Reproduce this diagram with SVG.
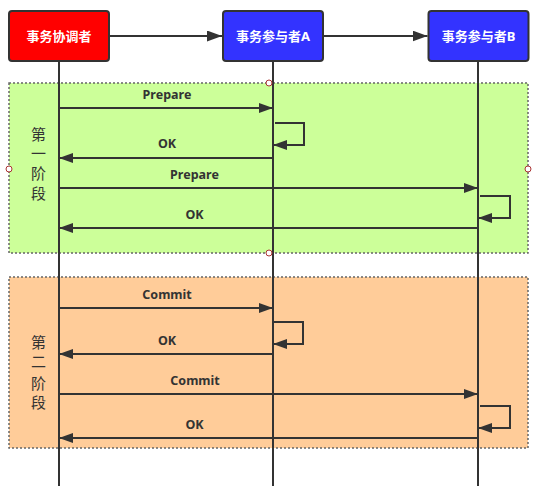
<svg xmlns="http://www.w3.org/2000/svg" width="546" height="486" viewBox="0 0 546 486">
<style>
.box{stroke:#333;stroke-width:2}
.lbl{font-family:"Noto Sans","Noto Sans CJK SC",sans-serif;font-weight:bold;font-size:13px;fill:#fff;text-anchor:middle}
.msg{font-family:"Noto Sans","Noto Sans CJK SC",sans-serif;font-weight:bold;font-size:12.5px;fill:#333;text-anchor:middle}
.phase{font-family:"Noto Sans CJK SC",sans-serif;font-size:15px;fill:#333;text-anchor:middle}
.ln{stroke:#333;stroke-width:2;fill:none}
.arr{stroke:#333;stroke-width:2;fill:none;marker-end:url(#ah)}
.frame{stroke:#666;stroke-width:1.5;stroke-dasharray:2 2}
.handle{fill:#fff;stroke:#a33;stroke-width:1}
</style>
<defs>
<marker id="ah" markerUnits="userSpaceOnUse" markerWidth="15" markerHeight="11" refX="14" refY="5" orient="auto">
<path d="M0,0 L14,5 L0,10 z" fill="#333"/>
</marker>
<marker id="ah2" markerUnits="userSpaceOnUse" markerWidth="16" markerHeight="12" refX="15" refY="5.5" orient="auto">
<path d="M0,0 L15,5.5 L0,11 z" fill="#333"/>
</marker>
</defs>
<g id="phase1">
<rect class="frame" x="9" y="83" width="519" height="170" fill="#CCFF99"/>
<text class="phase" x="38.5" y="139.5">第</text>
<text class="phase" x="38.5" y="159">一</text>
<text class="phase" x="38.5" y="179">阶</text>
<text class="phase" x="38.5" y="198.5">段</text>
</g>
<g id="phase2">
<rect class="frame" x="9" y="277" width="519" height="171" fill="#FFCC99"/>
<text class="phase" x="38.5" y="347.5">第</text>
<text class="phase" x="38.5" y="367">二</text>
<text class="phase" x="38.5" y="388.5">阶</text>
<text class="phase" x="38.5" y="408">段</text>
</g>
<g id="coordinator">
<rect class="box" x="9" y="11" width="100" height="50" rx="3" fill="#FF0000"/>
<text class="lbl" x="59" y="41">事务协调者</text>
</g>
<g id="participantA">
<rect class="box" x="223" y="11" width="100" height="50" rx="3" fill="#3333FF"/>
<text class="lbl" x="273" y="41">事务参与者A</text>
</g>
<g id="participantB">
<rect class="box" x="428.5" y="11" width="100" height="50" rx="3" fill="#3333FF"/>
<text class="lbl" x="478.5" y="41">事务参与者B</text>
</g>
<g id="connectors">
<line class="ln" x1="59" y1="61" x2="59" y2="486"/>
<line class="ln" x1="273" y1="61" x2="273" y2="486"/>
<line class="ln" x1="478" y1="61" x2="478" y2="486"/>
<line class="ln" x1="109" y1="36" x2="222" y2="36" marker-end="url(#ah2)"/>
<line class="ln" x1="323" y1="36" x2="427.5" y2="36" marker-end="url(#ah2)"/>
<!-- phase 1 -->
<line class="arr" x1="59" y1="108" x2="273" y2="108"/>
<polyline class="arr" points="275,123 304,123 304,145 273,145"/>
<line class="arr" x1="273" y1="158" x2="59" y2="158"/>
<line class="arr" x1="59" y1="188" x2="478" y2="188"/>
<polyline class="arr" points="480,196 510,196 510,218 478,218"/>
<line class="arr" x1="478" y1="228" x2="59" y2="228"/>
<!-- phase 2 -->
<line class="arr" x1="59" y1="308" x2="273" y2="308"/>
<polyline class="arr" points="273,322 303,322 303,344 273,344"/>
<line class="arr" x1="273" y1="354" x2="59" y2="354"/>
<line class="arr" x1="59" y1="394" x2="478" y2="394"/>
<polyline class="arr" points="480,406 510,406 510,428 478,428"/>
<line class="arr" x1="478" y1="438" x2="59" y2="438"/>
</g>
<g id="labels">
<text class="msg" x="167" y="99">Prepare</text>
<text class="msg" x="167" y="148">OK</text>
<text class="msg" x="194.5" y="178.5">Prepare</text>
<text class="msg" x="194.5" y="218.5">OK</text>
<text class="msg" x="167" y="299">Commit</text>
<text class="msg" x="167" y="345">OK</text>
<text class="msg" x="195" y="384.5">Commit</text>
<text class="msg" x="194.5" y="429">OK</text>
</g>
<g id="handles">
<circle class="handle" cx="269" cy="83" r="3"/>
<circle class="handle" cx="269" cy="253" r="3"/>
<circle class="handle" cx="9" cy="169" r="3"/>
<circle class="handle" cx="528" cy="169" r="3"/>
</g>
</svg>
